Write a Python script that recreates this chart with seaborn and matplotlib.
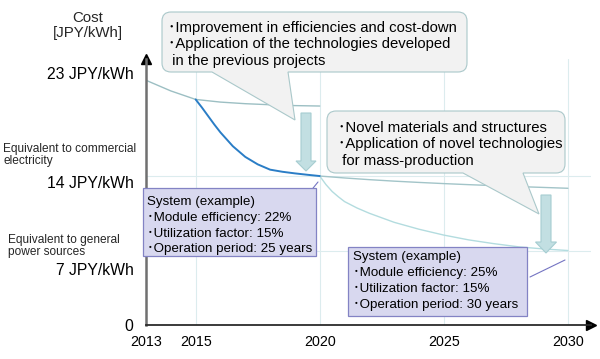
import matplotlib
matplotlib.use("Agg")
import matplotlib.pyplot as plt
import matplotlib.transforms as mtransforms
from matplotlib.path import Path
from matplotlib.patches import PathPatch, Polygon, Rectangle
from matplotlib.lines import Line2D
import pandas as pd
import seaborn as sns

# ---------------- data ----------------
years_current = [2013, 2014, 2015, 2016, 2017, 2018, 2019, 2020]
cost_current = [23.0, 22.0, 21.2, 20.95, 20.8, 20.7, 20.62, 20.58]

years_target2020 = [2015, 2015.25, 2015.5, 2015.75, 2016, 2016.5, 2017, 2017.5,
                    2018, 2018.5, 2019, 2019.5, 2020]
cost_target2020 = [21.2, 20.45, 19.65, 18.85, 18.1, 16.8, 15.8, 15.1,
                   14.6, 14.4, 14.25, 14.12, 14.0]

years_slow = [2020, 2021, 2022, 2023, 2024, 2025, 2026, 2027, 2028, 2029, 2030]
cost_slow = [14.0, 13.82, 13.66, 13.52, 13.4, 13.29, 13.19, 13.1, 13.01, 12.93, 12.85]

years_target2030 = [2020, 2020.25, 2020.5, 2020.75, 2021, 2021.5, 2022, 2023, 2024,
                    2025, 2026, 2027, 2028, 2029, 2030]
cost_target2030 = [14.0, 13.2, 12.55, 12.05, 11.6, 11.0, 10.5, 9.65, 9.0,
                   8.45, 8.0, 7.65, 7.35, 7.15, 7.0]

tick_years = [2013, 2015, 2020, 2025, 2030]
tick_year_labels = ["2013", "2015", "2020", "2025", "2030"]
level_values = [0, 7, 14, 23]
level_labels = ["0", "7 JPY/kWh", "14 JPY/kWh", "23 JPY/kWh"]
grid_levels = [7, 14]

callout1_lines = ["･Improvement in efficiencies and cost-down",
                  "･Application of the technologies developed",
                  " in the previous projects"]
callout2_lines = ["･Novel materials and structures",
                  "･Application of novel technologies",
                  " for mass-production"]
system1_lines = ["System (example)", "･Module efficiency: 22%",
                 "･Utilization factor: 15%", "･Operation period: 25 years"]
system2_lines = ["System (example)", "･Module efficiency: 25%",
                 "･Utilization factor: 15%", "･Operation period: 30 years"]

# ---------------- style ----------------
sns.set_theme(style="white")
plt.rcParams["font.family"] = ["Liberation Sans", "Noto Sans CJK JP"]

fig = plt.figure(figsize=(6, 3.59), dpi=100)
ax = fig.add_axes([146 / 600, 34 / 359, 445 / 600, 266 / 359])
PX = mtransforms.Affine2D().scale(1 / 600, -1 / 359).translate(0, 1) + fig.transFigure

ax.set_xlim(2013, 2030.93)
ax.set_ylim(0, 25)
ax.set_axisbelow(True)

# grid
ax.set_xticks(tick_years)
ax.set_xticklabels(tick_year_labels)
ax.grid(axis="x", color="#dcecee", lw=0.8)
for lvl in grid_levels:
    ax.axhline(lvl, color="#dcecee", lw=0.8, zorder=0.5)

# curves
sns.lineplot(x=years_current, y=cost_current, ax=ax, color="#9cbfc3", lw=1.0)
sns.lineplot(x=years_slow, y=cost_slow, ax=ax, color="#a2c4c8", lw=1.0)
sns.lineplot(x=years_target2030, y=cost_target2030, ax=ax, color="#b3dcdf", lw=1.0)
sns.lineplot(x=years_target2020, y=cost_target2020, ax=ax, color="#2a7dc6", lw=1.4)

# axes / spines
for s in ["top", "right"]:
    ax.spines[s].set_visible(False)
ax.spines["left"].set_color("#707070")
ax.spines["left"].set_linewidth(1.8)
ax.spines["bottom"].set_color("#2b2b2b")
ax.spines["bottom"].set_linewidth(1.3)
ax.plot(1, 0, marker=">", ms=7, color="black", transform=ax.transAxes, clip_on=False)
ax.plot(0, 1, marker="^", ms=7, color="black", transform=ax.transAxes, clip_on=False)

ax.set_yticks(level_values)
ax.set_yticklabels(level_labels)
ax.tick_params(axis="y", length=0, pad=9, labelsize=11.3, labelcolor="black")
ax.tick_params(axis="x", length=0, pad=7, labelsize=10.3, labelcolor="black")
ax.set_xlabel("")
ax.set_ylabel("")
label_shift_px = [0, 18, 6, -7]
for lab, dy in zip(ax.get_yticklabels(), label_shift_px):
    lab.set_transform(lab.get_transform() +
                      mtransforms.ScaledTranslation(0, -dy / 100, fig.dpi_scale_trans))

# ---------------- annotations ----------------
def callout(x0, y0, x1, y1, r, ta, tb, tip):
    verts = [(x0 + r, y0), (x1 - r, y0), (x1, y0), (x1, y0 + r), (x1, y1 - r),
             (x1, y1), (x1 - r, y1), (tb, y1), tip, (ta, y1), (x0 + r, y1),
             (x0, y1), (x0, y1 - r), (x0, y0 + r), (x0, y0), (x0 + r, y0), (x0 + r, y0)]
    codes = [Path.MOVETO, Path.LINETO, Path.CURVE3, Path.CURVE3, Path.LINETO,
             Path.CURVE3, Path.CURVE3, Path.LINETO, Path.LINETO, Path.LINETO,
             Path.LINETO, Path.CURVE3, Path.CURVE3, Path.LINETO, Path.CURVE3,
             Path.CURVE3, Path.CLOSEPOLY]
    p = PathPatch(Path(verts, codes), transform=PX, facecolor="#f2f2f2",
                  edgecolor="#aac8ca", lw=0.8, zorder=3)
    fig.patches.append(p)

callout(162, 12, 467, 72, 9, 212, 288, (295, 120))
callout(327, 111, 565, 173, 9, 463, 523, (539, 214))

def big_arrow(xc, top, head_base, tip, shaft_w, head_w):
    pts = [(xc - shaft_w / 2, top), (xc + shaft_w / 2, top), (xc + shaft_w / 2, head_base),
           (xc + head_w / 2, head_base), (xc, tip), (xc - head_w / 2, head_base),
           (xc - shaft_w / 2, head_base)]
    fig.patches.append(Polygon(pts, closed=True, transform=PX, facecolor="#c2dfe2",
                               edgecolor="#a6cdd1", lw=0.8, zorder=3))

big_arrow(306, 113, 161, 171, 10, 20)
big_arrow(546, 195, 242, 253, 10, 21)

for (x0, y0, x1, y1) in [(143, 188, 316, 256), (348, 247, 527, 316)]:
    fig.patches.append(Rectangle((x0, y0), x1 - x0, y1 - y0, transform=PX,
                                 facecolor="#d8d8ef", edgecolor="#8383c4", lw=0.9, zorder=3))

fig.lines.append(Line2D([305, 318], [198, 182], transform=PX, color="#7474c2", lw=0.8, zorder=3))
fig.lines.append(Line2D([530, 565], [277, 260], transform=PX, color="#7474c2", lw=0.8, zorder=3))

def lines_text(lines, x, baselines, size):
    for s, yb in zip(lines, baselines):
        fig.text(x, yb, s, transform=PX, fontsize=size, va="baseline", ha="left",
                 color="black", zorder=4)

lines_text(callout1_lines, 168, [32, 48, 65], 10.7)
lines_text(callout2_lines, 338, [132, 148, 165], 10.7)
lines_text(system1_lines, 147, [205, 221, 237, 252], 9.6)
lines_text(system2_lines, 353, [260, 276, 292, 308], 9.6)

fig.text(88, 22, "Cost", transform=PX, fontsize=10.8, ha="center", va="baseline")
fig.text(88, 37, "[JPY/kWh]", transform=PX, fontsize=10.8, ha="center", va="baseline")
fig.text(3, 152, "Equivalent to commercial", transform=PX, fontsize=8.6, ha="left", va="baseline")
fig.text(3, 164, "electricity", transform=PX, fontsize=8.6, ha="left", va="baseline")
fig.text(8, 243, "Equivalent to general", transform=PX, fontsize=8.6, ha="left", va="baseline")
fig.text(8, 255, "power sources", transform=PX, fontsize=8.6, ha="left", va="baseline")

fig.savefig("out.png", dpi=100)
